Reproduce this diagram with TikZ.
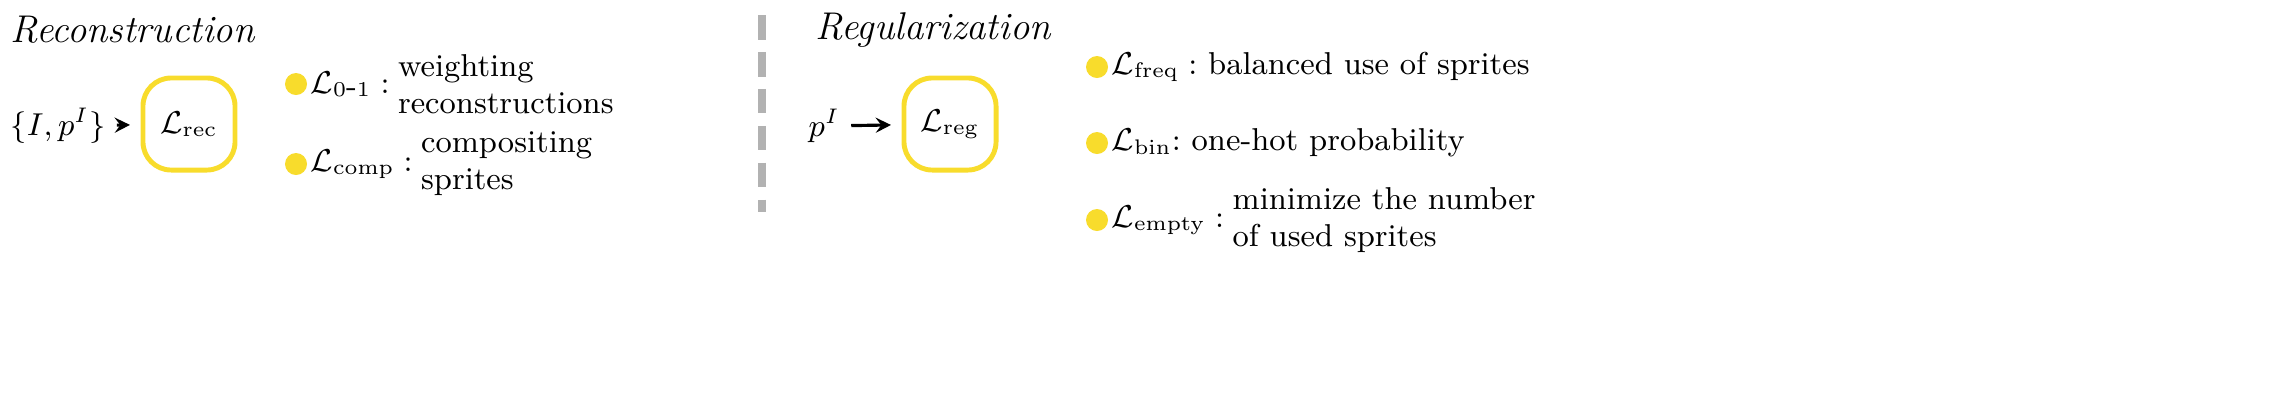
\documentclass[tikz,border=0pt]{standalone}
\begin{document}
\begin{tikzpicture}[x=0.01cm,y=-0.01cm,
  txt/.style={font=\fontsize{9}{10.5}\selectfont,inner sep=0pt},
  ttl/.style={font=\fontsize{11}{13}\selectfont\itshape,inner sep=0pt,anchor=west},
  box/.style={draw=ylw,line width=1.4pt,rounded corners=8pt,minimum width=0.92cm,minimum height=0.92cm,font=\fontsize{9}{10}\selectfont},
  dot/.style={circle,fill=ylw,minimum size=0.22cm,inner sep=0pt},
  lbl/.style={txt,anchor=west},
  desc/.style={txt,anchor=west,align=left},
  arr/.style={-stealth,line width=0.9pt,shorten >=3pt,shorten <=3pt}]
\definecolor{ylw}{HTML}{F8DC2C}
\useasboundingbox (0,0) rectangle (2283,405);
\node[ttl] (t1) at (10,30) {Reconstruction};
\node[ttl] (t2) at (815,30) {Regularization};
\draw[gray!60,line width=2pt,dash pattern=on 7pt off 3.5pt] (762,15) coordinate (d1) -- (762,212) coordinate (d2);
% reconstruction
\node[txt,anchor=west] (in1) at (10,126) {$\{I,p^I\}$};
\node[box] (rec) at (189,124) {$\mathcal{L}_{\mathrm{rec}}$};
\draw[arr] (in1) -- (rec);
\node[dot] (b1) at (296,84) {};
\node[lbl] (l1) at (310,84) {$\mathcal{L}_{\mathrm{0\hbox{-}1}}:$};
\node[desc] (d11) at ([xshift=2pt]l1.east) {weighting\\reconstructions};
\node[dot] (b2) at (296,164) {};
\node[lbl] (l2) at (310,164) {$\mathcal{L}_{\mathrm{comp}}:$};
\node[desc] (d21) at ([xshift=2pt]l2.east) {compositing\\sprites};
% regularization
\node[txt,anchor=west] (in2) at (808,126) {$p^I$};
\node[box] (reg) at (950,124) {$\mathcal{L}_{\mathrm{reg}}$};
\draw[arr] (in2) -- (reg);
\node[dot] (b3) at (1097,67) {};
\node[lbl] (l3) at (1111,67) {$\mathcal{L}_{\mathrm{freq}}:$\ balanced use of sprites};
\node[dot] (b4) at (1097,143) {};
\node[lbl] (l4) at (1111,143) {$\mathcal{L}_{\mathrm{bin}}$:\ one-hot probability};
\node[dot] (b5) at (1097,220) {};
\node[lbl] (l5) at (1111,220) {$\mathcal{L}_{\mathrm{empty}}:$};
\node[desc] (d51) at ([xshift=2pt]l5.east) {minimize the number\\of used sprites};
\end{tikzpicture}
\end{document}
